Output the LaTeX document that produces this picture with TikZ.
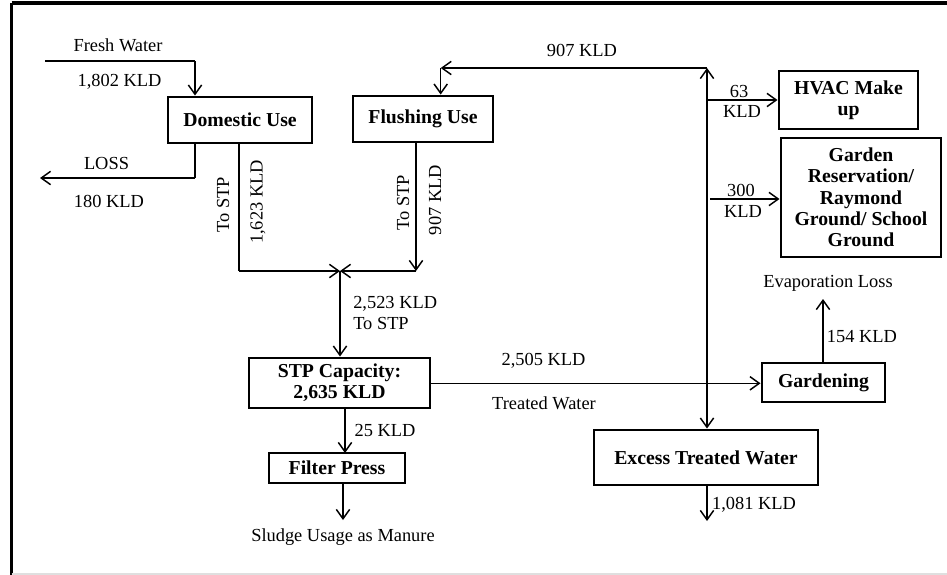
\documentclass[tikz,border=0pt]{standalone}
\usepackage{fontspec}
\setmainfont{Liberation Serif}
\usetikzlibrary{arrows.meta}
\begin{document}
\begin{tikzpicture}[x=0.75pt,y=-0.75pt,
  flow/.style={line width=1.1pt},
  arr/.style={flow,-{Straight Barb[length=7pt,width=10pt,line width=1.1pt]}},
  darr/.style={flow,{Straight Barb[length=7pt,width=10pt,line width=1.1pt]}-{Straight Barb[length=7pt,width=10pt,line width=1.1pt]}},
  box/.style={draw,line width=2.2pt,inner sep=0pt,align=center,font=\fontsize{14.8}{16}\selectfont\bfseries},
  lbl/.style={inner sep=0pt,font=\fontsize{13.8}{15.5}\selectfont}]
\useasboundingbox (0,0) rectangle (947,575);
% frame
\draw[line width=2.4pt] (11.5,3) -- (947,3);
\draw[line width=2.4pt] (11.5,3) -- (11.5,575);
\draw[line width=0.8pt,gray!25] (11.5,574) -- (947,574);
% boxes
\node[box,minimum width=108pt,minimum height=34.5pt] (dom) at (240,120) {Domestic Use};
\node[box,minimum width=105pt,minimum height=34.5pt] (flu) at (423,119) {Flushing Use};
\node[box,minimum width=135.75pt,minimum height=37.5pt] (stp) at (339.5,383) {STP Capacity:\\2,635 KLD};
\node[box,minimum width=102pt,minimum height=22.5pt] (fil) at (337,468) {Filter Press};
\node[box,minimum width=92.25pt,minimum height=29.25pt] (gdn) at (823.5,382.5) {Gardening};
\node[box,minimum width=168pt,minimum height=41.25pt] (exc) at (706,457.5) {Excess Treated Water};
\node[box,minimum width=104.25pt,minimum height=43.5pt] (hvac) at (848.5,100) {HVAC Make\\up};
\node[box,minimum width=120pt,minimum height=89.25pt] (grs) at (861,197.5) {Garden\\Reservation/\\Raymond\\Ground/ School\\Ground};
% coordinates
\coordinate (fw) at (45,61);
\coordinate (fwc) at (195,61);
\coordinate (lossc) at (195,178);
\coordinate (lossend) at (40,178);
\coordinate (dc) at (239,271);
\coordinate (mg) at (340,271);
\coordinate (fc) at (416,271);
\coordinate (tr) at (707,68);
\coordinate (tl) at (440.7,68);
\coordinate (hv) at (707,100);
\coordinate (gs) at (710,199);
\coordinate (sl) at (343,520);
\coordinate (ev) at (823,299);
\coordinate (ex) at (707,521);
% connectors
\draw[flow] (fw) -- (fwc);
\draw[arr] (fwc) -- (fwc |- dom.north);
\draw[flow] (fwc |- dom.south) -- (lossc);
\draw[arr] (lossc) -- (lossend);
\draw[flow] (dc |- dom.south) -- (dc);
\draw[arr] (dc) -- (mg);
\draw[arr] (fc |- flu.south) -- (fc);
\draw[arr] (fc) -- (mg);
\draw[arr] (mg) -- (mg |- stp.north);
\draw[arr] (345,408) -- (345,453);
\draw[arr] (343,483) -- (sl);
\draw[arr] (stp.east |- 0,383.3) -- (gdn.west |- 0,383.3);
\draw[darr] (tr) -- (tr |- exc.north);
\draw[arr] (tr) -- (tl);
\draw[arr] (tl) -- (tl |- flu.north);
\draw[arr] (hv) -- (hvac.west |- hv);
\draw[arr] (gs) -- (grs.west |- gs);
\draw[arr] (gdn.north -| ev) -- (ev);
\draw[arr] (ex |- exc.south) -- (ex);
% labels
\node[lbl] (lfw) at (118,45) {Fresh Water};
\node[lbl] (l1802) at (119.5,82) {1,802 KLD};
\node[lbl] (lloss) at (106.5,163) {LOSS};
\node[lbl] (l180) at (109,201) {180 KLD};
\node[lbl,rotate=90] (ltostp1) at (223,205) {To STP};
\node[lbl,rotate=90] (l1623) at (258,202) {1,623 KLD};
\node[lbl,rotate=90] (ltostp2) at (403,203) {To STP};
\node[lbl,rotate=90] (l907v) at (435,200) {907 KLD};
\node[lbl,anchor=west,align=left] (l2523) at (353,313) {2,523 KLD\\To STP};
\node[lbl] (l25) at (385,430) {25 KLD};
\node[lbl] (lsludge) at (343,537) {Sludge Usage as Manure};
\node[lbl] (l2505) at (543.5,361) {2,505 KLD};
\node[lbl] (ltw) at (544,403) {Treated Water};
\node[lbl] (l907) at (582,50) {907 KLD};
\node[lbl] (l63) at (739,91) {63};
\node[lbl] (l63k) at (742,111.5) {KLD};
\node[lbl] (l300) at (741,190) {300};
\node[lbl] (l300k) at (743,211) {KLD};
\node[lbl] (levap) at (828,283) {Evaporation Loss};
\node[lbl] (l154) at (862,337) {154 KLD};
\node[lbl] (l1081) at (754,505) {1,081 KLD};
\end{tikzpicture}
\end{document}
